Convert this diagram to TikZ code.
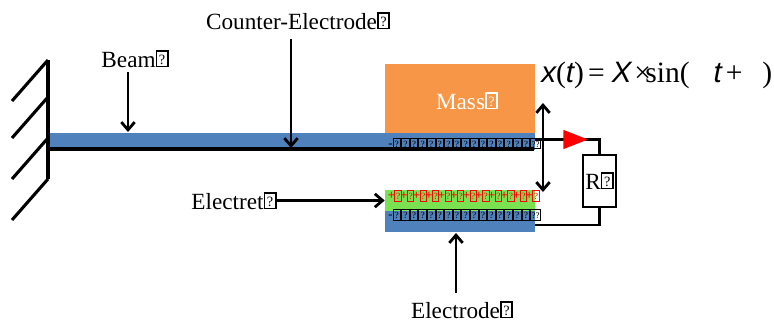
\documentclass[tikz,border=0pt]{standalone}
\usepackage{graphicx}
\usepackage{fontspec}
\usetikzlibrary{arrows.meta,shapes.geometric}
\setmainfont{Liberation Serif}
\newfontfamily\eqsans{Liberation Sans}
\definecolor{plateblue}{RGB}{79,129,189}
\definecolor{massorange}{RGB}{247,150,70}
\definecolor{electretgreen}{RGB}{122,226,80}
\newcommand{\tofu}[1][0.42em]{{\setlength\fboxsep{0.05em}\setlength\fboxrule{0.08em}\fbox{\rule{0pt}{.62em}\makebox[#1]{\scalebox{.75}{?}}}}}
\newcommand{\tofuend}{{\setlength\fboxsep{0.05em}\setlength\fboxrule{0.08em}\fbox{\rule{0pt}{.62em}\makebox[0.6em]{\scalebox{.7}{??}}}}}
\newcommand{\labeltofu}{\raisebox{.13em}{\fontsize{13.5}{14}\selectfont\tofu}}
\newcommand{\minusrow}{-\foreach \n in {1,...,16}{\tofu}\tofuend}
\newcommand{\plusrow}{\foreach \n in {1,...,12}{\makebox[.41em][l]{\kern-.12em\bfseries +}\tofu[.32em]}}
\tikzset{
    label/.style={font=\fontsize{16.5}{18}\selectfont, inner sep=0pt},
    plate/.style={fill=#1, inner sep=0pt, minimum width=3.75cm},
    row/.style={font=\fontsize{9}{10}\selectfont, inner sep=0pt, anchor=west},
}
\begin{document}
\begin{tikzpicture}[x=0.025cm, y=-0.025cm, >={Straight Barb[length=5.5pt,width=9.5pt]}]
    \useasboundingbox (0,0) rectangle (774,321);

    % plates
    \node[plate=plateblue, minimum width=12.15cm, minimum height=0.425cm] (beam) at (292,141.5) {};
    \node[plate=massorange, minimum height=1.725cm] (mass) at (460,98.5) {};
    \node[plate=electretgreen, minimum height=0.525cm] (electret) at (460,200.5) {};
    \node[plate=plateblue, minimum height=0.525cm] (electrode) at (460,221.5) {};
    \node[label, text=white] (masslabel) at (467,101) {Mass\labeltofu};

    % charges
    \node[row] (chargetop) at (388,143.5) {\minusrow};
    \node[row, text=red] (chargeplus) at (389,196) {\plusrow};
    \node[row] (chargelow) at (388,215) {\minusrow};

    % labels
    \node[label] (beamlabel) at (135,59) {Beam\labeltofu};
    \node[label] (counterlabel) at (298,21) {Counter-Electrode\labeltofu};
    \node[label] (electretlabel) at (234,201) {Electret\labeltofu};
    \node[label] (electrodelabel) at (462,310) {Electrode\labeltofu};

    \coordinate (beamtip) at (128,132);
    \coordinate (beamtail) at (128,72);
    \coordinate (countertip) at (291,148);
    \coordinate (countertail) at (291,39);
    \coordinate (electrettail) at (275,200.5);
    \coordinate (electrodetail) at (456,293);
    \coordinate (electrodetip) at (456,233);

    \draw[->, line width=2pt] (beamtail) to (beamtip);
    \draw[->, line width=2pt] (electrettail) to (electret.west);
    \draw[->, line width=2pt] (electrodetail) to (electrodetip);

    % wall
    \coordinate (walltop) at (48,60);
    \coordinate (wallbottom) at (48,179);
    \coordinate (beamroot) at (49,149);
    \coordinate (beamend) at (534,149);
    \draw[line width=2.2pt] (walltop) to (wallbottom);
    \foreach \y in {60,97,138,179}
        \draw[line width=2.2pt] (48,\y) to ++(-36,41);
    \draw[line width=2.8pt] (beamroot) to (beamend);
    \draw[->, line width=2pt] (countertail) to (countertip);

    % circuit
    \node[draw, line width=1.5pt, fill=white, inner sep=0pt, minimum width=0.825cm, minimum height=1.3cm, font=\fontsize{16.5}{18}\selectfont] (load) at (599.5,181) {R\labeltofu};
    \coordinate (wirea) at (535,139.5);
    \coordinate (wireb) at (599.5,139.5);
    \coordinate (wirec) at (599.5,225);
    \coordinate (wired) at (535,225);
    \draw[line width=1.8pt] (wirea) to (wireb) to (load.north);
    \draw[line width=1.8pt] (load.south) to (wirec) to (wired);
    \node[isosceles triangle, isosceles triangle apex angle=43, fill=red, inner sep=0pt, minimum height=0.6cm, minimum width=0.48cm] (diode) at (570,139.5) {};

    \coordinate (swingtop) at (543,103);
    \coordinate (swingbottom) at (543,192);
    \draw[<->, line width=2pt] (swingtop) to (swingbottom);

    % motion
    \node[inner sep=0pt, anchor=base west, font=\fontsize{21}{22}\selectfont] (motion) at (541,83) {{\eqsans\itshape x}({\eqsans\itshape t})\kern3pt=\kern5pt{\eqsans\itshape X}\kern2pt×\kern-4pt sin(\kern17pt{\eqsans\itshape t}\kern3pt+\kern14pt)};
\end{tikzpicture}
\end{document}
